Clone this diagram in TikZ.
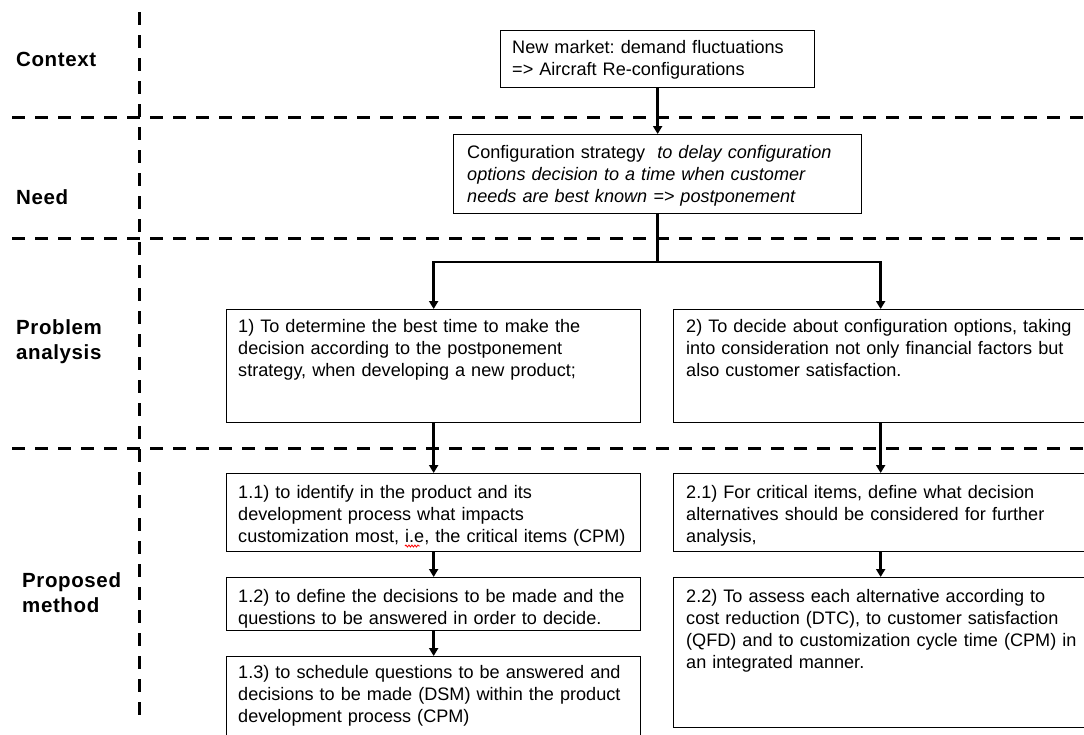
\documentclass[tikz,border=0pt]{standalone}
\usepackage{fontspec}
\setmainfont{Liberation Sans}
\newfontfamily\lblfont[LetterSpace=3]{Liberation Sans}
\usetikzlibrary{arrows.meta,decorations.pathmorphing}
\frenchspacing
\begin{document}
\begin{tikzpicture}[x=1pt,y=-1pt,
  frame/.style={draw=black, line width=1.3pt, inner sep=0pt, anchor=north west},
  txt/.style={anchor=base west, inner sep=0pt, text width=420pt, align=left, font=\frenchspacing\fontsize{18.1}{22}\selectfont},
  lbl/.style={anchor=base west, inner sep=0pt, text width=130pt, align=left, font=\lblfont\bfseries\fontsize{20.5}{25.5}\selectfont},
  sep/.style={line width=3pt, dash pattern=on 13pt off 10pt},
  arr/.style={line width=2.8pt, -{Triangle[width=9pt,length=8pt]}},
  conn/.style={line width=2.8pt}]
\useasboundingbox[fill=white] (0,0) rectangle (1084,734);
\clip (0,0) rectangle (1084,734);

% separators
\draw[sep] (12,117) -- (1084,117);
\draw[sep] (12,238) -- (1084,238);
\draw[sep] (12,448) -- (1084,448);
\draw[sep] (139,12) -- (139,720);

% row labels
\node[lbl] (lctx) at (16,66) {Context};
\node[lbl] (lneed) at (16,204) {Need};
\node[lbl] (lprob) at (16,334) {Problem\\analysis};
\node[lbl] (lprop) at (22,587) {Proposed\\method};

% boxes
\node[frame, minimum width=314pt, minimum height=57pt] (ctx) at (500,30) {};
\node[frame, minimum width=408pt, minimum height=79pt] (need) at (453,134) {};
\node[frame, minimum width=414pt, minimum height=113pt] (p1) at (226,309) {};
\node[frame, minimum width=414pt, minimum height=113pt] (p2) at (673,309) {};
\node[frame, minimum width=414pt, minimum height=78pt] (b11) at (226,473) {};
\node[frame, minimum width=414pt, minimum height=53pt] (b12) at (226,577) {};
\node[frame, minimum width=414pt, minimum height=100pt] (b13) at (226,656) {};
\node[frame, minimum width=414pt, minimum height=78pt] (b21) at (673,473) {};
\node[frame, minimum width=414pt, minimum height=150pt] (b22) at (673,577) {};

% texts
\node[txt] (tctx) at (512,53) {New market: demand fluctuations\\=> Aircraft Re-configurations};
\node[txt] (tneed) at (467,158) {Configuration strategy\ \ \textit{to delay configuration}\\\textit{options decision to a time when customer}\\\textit{needs are best known => postponement}};
\node[txt] (tp1) at (238,332) {1) To determine the best time to make the\\decision according to the postponement\\strategy, when developing a new product;};
\node[txt] (tp2) at (686,332) {2) To decide about configuration options, taking\\into consideration not only financial factors but\\also customer satisfaction.};
\node[txt] (tb11) at (238,498) {1.1) to identify in the product and its\\development process what impacts\\customization most, i.e, the critical items (CPM)};
\node[txt] (tb12) at (238,602) {1.2) to define the decisions to be made and the\\questions to be answered in order to decide.};
\node[txt] (tb13) at (238,678) {1.3) to schedule questions to be answered and\\decisions to be made (DSM) within the product\\development process (CPM)};
\node[txt] (tb21) at (686,498) {2.1) For critical items, define what decision\\alternatives should be considered for further\\analysis,};
\node[txt] (tb22) at (686,602) {2.2) To assess each alternative according to\\cost reduction (DTC), to customer satisfaction\\(QFD) and to customization cycle time (CPM) in\\an integrated manner.};

% spell-check squiggle
\draw[red, line width=0.8pt, decorate, decoration={snake, amplitude=1pt, segment length=3pt}] (405,546) -- (420,546);

% connectors
\draw[arr] (ctx.south) -- (need.north);
\coordinate (split) at (need.south |- 0,262);
\draw[conn] (need.south) -- (split);
\draw[arr] (split) -| (p1.north);
\draw[arr] (split) -| (p2.north);
\draw[arr] (p1.south) -- (b11.north);
\draw[arr] (b11.south) -- (b12.north);
\draw[arr] (b12.south) -- (b13.north);
\draw[arr] (p2.south) -- (b21.north);
\draw[arr] (b21.south) -- (b22.north);
\end{tikzpicture}
\end{document}
